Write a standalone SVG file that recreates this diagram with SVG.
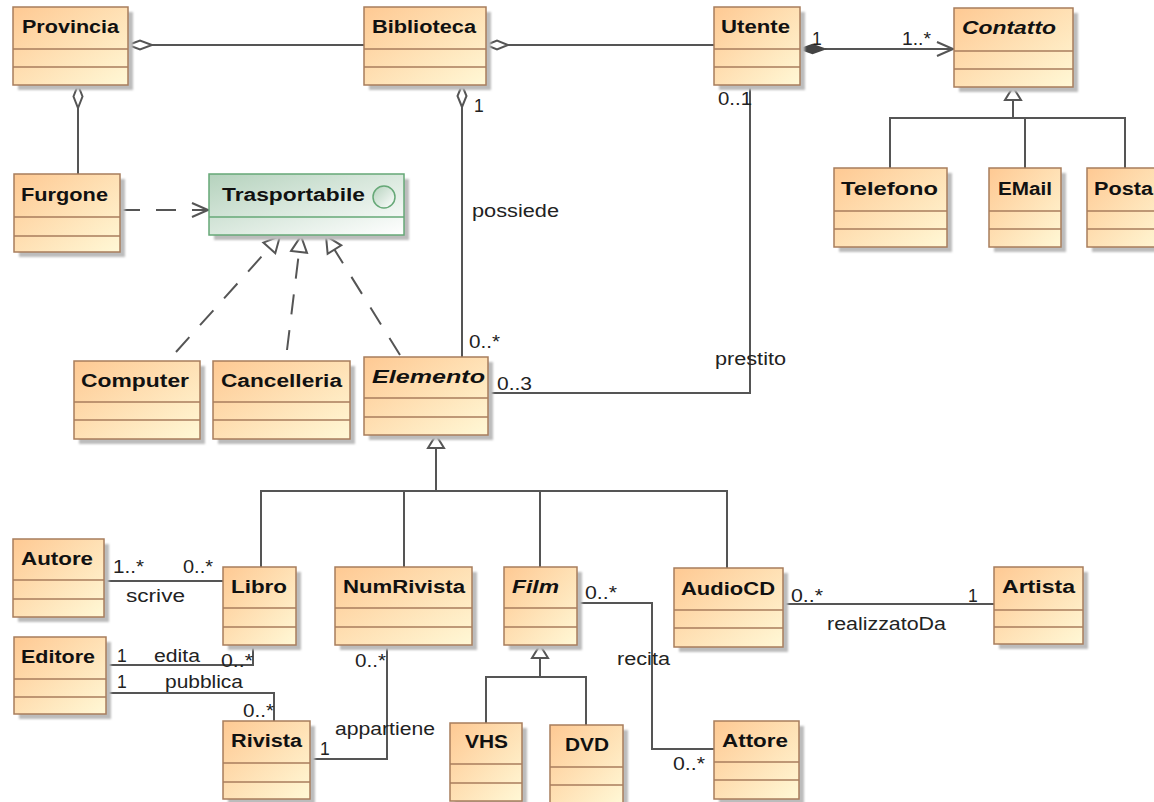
<svg xmlns="http://www.w3.org/2000/svg" width="1154" height="802" viewBox="0 0 1154 802">
<style>
.sh{fill:#bcbcbc;filter:url(#blur)}
.box{fill:url(#go);stroke:#A87D5C;stroke-width:1.5}
.gbox{fill:url(#gg);stroke:#66A877;stroke-width:1.5}
.cl{stroke:#A87D5C;stroke-width:1.5}
.gl{stroke:#66A877;stroke-width:1.5}
.t{font-family:"Liberation Sans",Arial,sans-serif;font-weight:bold;font-size:18px;fill:#111}
.i{font-style:italic}
.l{font-family:"Liberation Sans",Arial,sans-serif;font-size:17.5px;fill:#222}
.c{fill:none;stroke:#555;stroke-width:2}
.d{stroke-dasharray:20 16}
.hd{fill:#fff;stroke:#555;stroke-width:2}
.fd{fill:#444;stroke:#444;stroke-width:1.5}
</style>
<defs>
<linearGradient id="go" x1="0" y1="0" x2="1" y2="1">
<stop offset="0" stop-color="#FEC993"/>
<stop offset="1" stop-color="#FFF8D6"/>
</linearGradient>
<linearGradient id="gg" x1="0" y1="0" x2="1" y2="1">
<stop offset="0" stop-color="#B5D2BD"/>
<stop offset="1" stop-color="#FFFFFF"/>
</linearGradient>
<filter id="blur" x="-10%" y="-10%" width="120%" height="120%"><feGaussianBlur stdDeviation="1.2"/></filter>
<marker id="tri" viewBox="0 0 20 20" markerWidth="20" markerHeight="20" refX="18" refY="10" orient="auto" markerUnits="userSpaceOnUse">
<path d="M2,2 L18,10 L2,18 Z" fill="#fff" stroke="#555" stroke-width="2"/>
</marker>
<marker id="open" viewBox="0 0 20 20" markerWidth="20" markerHeight="20" refX="18" refY="10" orient="auto" markerUnits="userSpaceOnUse">
<path d="M2,3 L18,10 L2,17" fill="none" stroke="#555" stroke-width="2"/>
</marker>
</defs>
<rect width="1154" height="802" fill="#fff"/>

<g id="connectors">
<line class="c" x1="152" y1="45" x2="364" y2="45"/>
<polygon class="hd" points="128,45 140,40.5 152,45 140,49.5"/>
<line class="c" x1="78" y1="108" x2="78" y2="174"/>
<polygon class="hd" points="78,85 82.5,96.5 78,108 73.5,96.5"/>
<line class="c" x1="508" y1="45" x2="714" y2="45"/>
<polygon class="hd" points="486,45 497,40.5 508,45 497,49.5"/>
<line class="c" x1="825" y1="49" x2="953" y2="49" marker-end="url(#open)"/>
<polygon class="fd" points="800,49 812.5,44.5 825,49 812.5,53.5"/>
<line class="c" x1="462" y1="107" x2="462" y2="357"/>
<polygon class="hd" points="462,85 466.5,96 462,107 457.5,96"/>
<polyline class="c" points="750,85 750,393 488,393"/>
<polyline class="c" points="890,168 890,118 1125,118 1125,168"/>
<line class="c" x1="1025" y1="118" x2="1025" y2="168"/>
<line class="c" x1="1013" y1="100" x2="1013" y2="118"/>
<polygon class="hd" points="1013,87 1021,100 1005,100"/>
<line class="c d" x1="120" y1="210" x2="208" y2="210" marker-end="url(#open)"/>
<line class="c d" x1="176" y1="352" x2="280" y2="236" marker-end="url(#tri)"/>
<line class="c d" x1="287" y1="350" x2="301" y2="236" marker-end="url(#tri)"/>
<line class="c d" x1="400" y1="355" x2="326" y2="236" marker-end="url(#tri)"/>
<polyline class="c" points="261,567 261,491 727,491 727,568"/>
<line class="c" x1="404" y1="491" x2="404" y2="567"/>
<line class="c" x1="540" y1="491" x2="540" y2="567"/>
<line class="c" x1="436" y1="448" x2="436" y2="491"/>
<polygon class="hd" points="436,435 444,448 428,448"/>
<line class="c" x1="104" y1="581" x2="223" y2="581"/>
<polyline class="c" points="106,665 253,665 253,645"/>
<polyline class="c" points="106,693 274,693 274,721"/>
<polyline class="c" points="387,645 387,759 310,759"/>
<polyline class="c" points="486,723 486,677 586,677 586,725"/>
<line class="c" x1="540" y1="658" x2="540" y2="677"/>
<polygon class="hd" points="540,645 548,658 532,658"/>
<polyline class="c" points="577,603 652,603 652,749 714,749"/>
<line class="c" x1="783" y1="604" x2="994" y2="604"/>
</g>

<g id="labels">
<text class="l" x="474" y="112">1</text>
<text class="l" x="718" y="105" textLength="34" lengthAdjust="spacingAndGlyphs">0..1</text>
<text class="l" x="472" y="217" textLength="87" lengthAdjust="spacingAndGlyphs">possiede</text>
<text class="l" x="812" y="45">1</text>
<text class="l" x="902" y="45" textLength="29" lengthAdjust="spacingAndGlyphs">1..*</text>
<text class="l" x="469" y="348" textLength="31" lengthAdjust="spacingAndGlyphs">0..*</text>
<text class="l" x="715" y="365" textLength="71" lengthAdjust="spacingAndGlyphs">prestito</text>
<text class="l" x="497" y="390" textLength="35" lengthAdjust="spacingAndGlyphs">0..3</text>
<text class="l" x="113" y="573" textLength="31" lengthAdjust="spacingAndGlyphs">1..*</text>
<text class="l" x="183" y="573" textLength="30" lengthAdjust="spacingAndGlyphs">0..*</text>
<text class="l" x="126" y="602" textLength="59" lengthAdjust="spacingAndGlyphs">scrive</text>
<text class="l" x="117" y="662">1</text>
<text class="l" x="154" y="662" textLength="46" lengthAdjust="spacingAndGlyphs">edita</text>
<text class="l" x="221" y="667" textLength="32" lengthAdjust="spacingAndGlyphs">0..*</text>
<text class="l" x="117" y="688">1</text>
<text class="l" x="165" y="688" textLength="78" lengthAdjust="spacingAndGlyphs">pubblica</text>
<text class="l" x="243" y="717" textLength="31" lengthAdjust="spacingAndGlyphs">0..*</text>
<text class="l" x="355" y="667" textLength="31" lengthAdjust="spacingAndGlyphs">0..*</text>
<text class="l" x="335" y="735" textLength="100" lengthAdjust="spacingAndGlyphs">appartiene</text>
<text class="l" x="320" y="755">1</text>
<text class="l" x="585" y="599" textLength="32" lengthAdjust="spacingAndGlyphs">0..*</text>
<text class="l" x="617" y="665" textLength="53" lengthAdjust="spacingAndGlyphs">recita</text>
<text class="l" x="673" y="770" textLength="32" lengthAdjust="spacingAndGlyphs">0..*</text>
<text class="l" x="791" y="602" textLength="32" lengthAdjust="spacingAndGlyphs">0..*</text>
<text class="l" x="968" y="602">1</text>
<text class="l" x="827" y="630" textLength="119" lengthAdjust="spacingAndGlyphs">realizzatoDa</text>
</g>

<g id="provincia">
<rect class="sh" x="18" y="12" width="115" height="78"/>
<rect class="box" x="13" y="7" width="115" height="78"/>
<line class="cl" x1="13" y1="49" x2="128" y2="49"/><line class="cl" x1="13" y1="67" x2="128" y2="67"/>
<text class="t" x="22" y="33" textLength="97" lengthAdjust="spacingAndGlyphs">Provincia</text>
</g>
<g id="biblioteca">
<rect class="sh" x="369" y="12" width="122" height="78"/>
<rect class="box" x="364" y="7" width="122" height="78"/>
<line class="cl" x1="364" y1="49" x2="486" y2="49"/><line class="cl" x1="364" y1="67" x2="486" y2="67"/>
<text class="t" x="372" y="33" textLength="104" lengthAdjust="spacingAndGlyphs">Biblioteca</text>
</g>
<g id="utente">
<rect class="sh" x="719" y="12" width="86" height="78"/>
<rect class="box" x="714" y="7" width="86" height="78"/>
<line class="cl" x1="714" y1="49" x2="800" y2="49"/><line class="cl" x1="714" y1="67" x2="800" y2="67"/>
<text class="t" x="721" y="33" textLength="69" lengthAdjust="spacingAndGlyphs">Utente</text>
</g>
<g id="contatto">
<rect class="sh" x="959" y="13" width="119" height="79"/>
<rect class="box" x="954" y="8" width="119" height="79"/>
<line class="cl" x1="954" y1="51" x2="1073" y2="51"/><line class="cl" x1="954" y1="69" x2="1073" y2="69"/>
<text class="t i" x="962" y="34" textLength="94" lengthAdjust="spacingAndGlyphs">Contatto</text>
</g>
<g id="furgone">
<rect class="sh" x="19" y="179" width="106" height="78"/>
<rect class="box" x="14" y="174" width="106" height="78"/>
<line class="cl" x1="14" y1="217" x2="120" y2="217"/><line class="cl" x1="14" y1="236" x2="120" y2="236"/>
<text class="t" x="21" y="201" textLength="87" lengthAdjust="spacingAndGlyphs">Furgone</text>
</g>
<g id="trasportabile">
<rect class="sh" x="214" y="179" width="195" height="61"/>
<rect class="gbox" x="209" y="174" width="195" height="61"/>
<line class="gl" x1="209" y1="217" x2="404" y2="217"/>
<text class="t" x="222" y="201" textLength="143" lengthAdjust="spacingAndGlyphs">Trasportabile</text>
<circle cx="384" cy="197" r="11" fill="url(#gg)" stroke="#66A877" stroke-width="1.5"/>
</g>
<g id="telefono">
<rect class="sh" x="839" y="173" width="113" height="79"/>
<rect class="box" x="834" y="168" width="113" height="79"/>
<line class="cl" x1="834" y1="211" x2="947" y2="211"/><line class="cl" x1="834" y1="229" x2="947" y2="229"/>
<text class="t" x="841" y="195" textLength="97" lengthAdjust="spacingAndGlyphs">Telefono</text>
</g>
<g id="email">
<rect class="sh" x="994" y="173" width="72" height="79"/>
<rect class="box" x="989" y="168" width="72" height="79"/>
<line class="cl" x1="989" y1="211" x2="1061" y2="211"/><line class="cl" x1="989" y1="229" x2="1061" y2="229"/>
<text class="t" x="998" y="195" textLength="54" lengthAdjust="spacingAndGlyphs">EMail</text>
</g>
<g id="posta">
<rect class="sh" x="1092" y="173" width="80" height="79"/>
<rect class="box" x="1087" y="168" width="80" height="79"/>
<line class="cl" x1="1087" y1="211" x2="1167" y2="211"/><line class="cl" x1="1087" y1="229" x2="1167" y2="229"/>
<text class="t" x="1094" y="195" textLength="59" lengthAdjust="spacingAndGlyphs">Posta</text>
</g>
<g id="computer">
<rect class="sh" x="79" y="366" width="126" height="78"/>
<rect class="box" x="74" y="361" width="126" height="78"/>
<line class="cl" x1="74" y1="402" x2="200" y2="402"/><line class="cl" x1="74" y1="420" x2="200" y2="420"/>
<text class="t" x="81" y="387" textLength="108" lengthAdjust="spacingAndGlyphs">Computer</text>
</g>
<g id="cancelleria">
<rect class="sh" x="218" y="366" width="137" height="78"/>
<rect class="box" x="213" y="361" width="137" height="78"/>
<line class="cl" x1="213" y1="402" x2="350" y2="402"/><line class="cl" x1="213" y1="420" x2="350" y2="420"/>
<text class="t" x="221" y="387" textLength="121" lengthAdjust="spacingAndGlyphs">Cancelleria</text>
</g>
<g id="elemento">
<rect class="sh" x="369" y="362" width="124" height="78"/>
<rect class="box" x="364" y="357" width="124" height="78"/>
<line class="cl" x1="364" y1="398" x2="488" y2="398"/><line class="cl" x1="364" y1="417" x2="488" y2="417"/>
<text class="t i" x="372" y="383" textLength="113" lengthAdjust="spacingAndGlyphs">Elemento</text>
</g>
<g id="autore">
<rect class="sh" x="18" y="544" width="91" height="78"/>
<rect class="box" x="13" y="539" width="91" height="78"/>
<line class="cl" x1="13" y1="580" x2="104" y2="580"/><line class="cl" x1="13" y1="599" x2="104" y2="599"/>
<text class="t" x="21" y="565" textLength="72" lengthAdjust="spacingAndGlyphs">Autore</text>
</g>
<g id="libro">
<rect class="sh" x="228" y="572" width="73" height="78"/>
<rect class="box" x="223" y="567" width="73" height="78"/>
<line class="cl" x1="223" y1="608" x2="296" y2="608"/><line class="cl" x1="223" y1="627" x2="296" y2="627"/>
<text class="t" x="231" y="593" textLength="56" lengthAdjust="spacingAndGlyphs">Libro</text>
</g>
<g id="numrivista">
<rect class="sh" x="340" y="572" width="137" height="78"/>
<rect class="box" x="335" y="567" width="137" height="78"/>
<line class="cl" x1="335" y1="608" x2="472" y2="608"/><line class="cl" x1="335" y1="627" x2="472" y2="627"/>
<text class="t" x="343" y="593" textLength="122" lengthAdjust="spacingAndGlyphs">NumRivista</text>
</g>
<g id="film">
<rect class="sh" x="509" y="572" width="73" height="78"/>
<rect class="box" x="504" y="567" width="73" height="78"/>
<line class="cl" x1="504" y1="608" x2="577" y2="608"/><line class="cl" x1="504" y1="627" x2="577" y2="627"/>
<text class="t i" x="512" y="593" textLength="47" lengthAdjust="spacingAndGlyphs">Film</text>
</g>
<g id="audiocd">
<rect class="sh" x="679" y="573" width="109" height="79"/>
<rect class="box" x="674" y="568" width="109" height="79"/>
<line class="cl" x1="674" y1="610" x2="783" y2="610"/><line class="cl" x1="674" y1="628" x2="783" y2="628"/>
<text class="t" x="681" y="595" textLength="94" lengthAdjust="spacingAndGlyphs">AudioCD</text>
</g>
<g id="artista">
<rect class="sh" x="999" y="572" width="89" height="77"/>
<rect class="box" x="994" y="567" width="89" height="77"/>
<line class="cl" x1="994" y1="610" x2="1083" y2="610"/><line class="cl" x1="994" y1="627" x2="1083" y2="627"/>
<text class="t" x="1002" y="593" textLength="73" lengthAdjust="spacingAndGlyphs">Artista</text>
</g>
<g id="editore">
<rect class="sh" x="19" y="642" width="92" height="77"/>
<rect class="box" x="14" y="637" width="92" height="77"/>
<line class="cl" x1="14" y1="679" x2="106" y2="679"/><line class="cl" x1="14" y1="697" x2="106" y2="697"/>
<text class="t" x="21" y="663" textLength="74" lengthAdjust="spacingAndGlyphs">Editore</text>
</g>
<g id="rivista">
<rect class="sh" x="228" y="726" width="87" height="78"/>
<rect class="box" x="223" y="721" width="87" height="78"/>
<line class="cl" x1="223" y1="763" x2="310" y2="763"/><line class="cl" x1="223" y1="782" x2="310" y2="782"/>
<text class="t" x="231" y="747" textLength="71" lengthAdjust="spacingAndGlyphs">Rivista</text>
</g>
<g id="vhs">
<rect class="sh" x="455" y="728" width="72" height="78"/>
<rect class="box" x="450" y="723" width="72" height="78"/>
<line class="cl" x1="450" y1="764" x2="522" y2="764"/><line class="cl" x1="450" y1="783" x2="522" y2="783"/>
<text class="t" x="465" y="748" textLength="43" lengthAdjust="spacingAndGlyphs">VHS</text>
</g>
<g id="dvd">
<rect class="sh" x="555" y="730" width="73" height="78"/>
<rect class="box" x="550" y="725" width="73" height="78"/>
<line class="cl" x1="550" y1="767" x2="623" y2="767"/><line class="cl" x1="550" y1="785" x2="623" y2="785"/>
<text class="t" x="565" y="751" textLength="44" lengthAdjust="spacingAndGlyphs">DVD</text>
</g>
<g id="attore">
<rect class="sh" x="719" y="726" width="85" height="78"/>
<rect class="box" x="714" y="721" width="85" height="78"/>
<line class="cl" x1="714" y1="762" x2="799" y2="762"/><line class="cl" x1="714" y1="780" x2="799" y2="780"/>
<text class="t" x="722" y="747" textLength="66" lengthAdjust="spacingAndGlyphs">Attore</text>
</g>
</svg>
